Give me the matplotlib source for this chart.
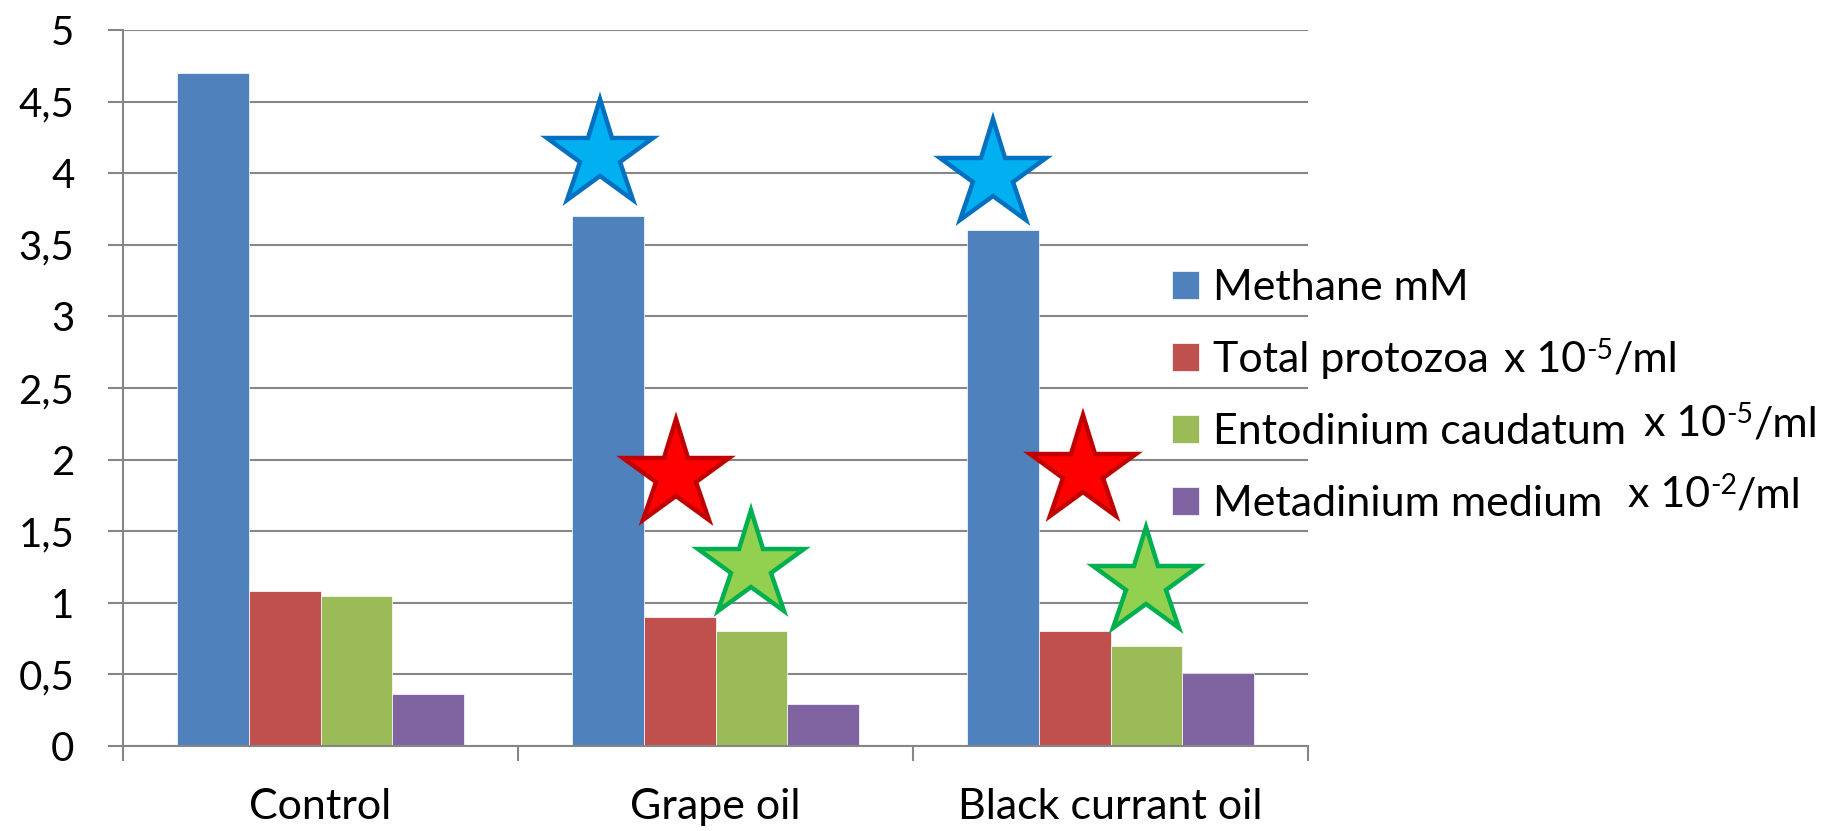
import matplotlib
matplotlib.use("Agg")
import matplotlib.pyplot as plt
import numpy as np
from matplotlib.markers import MarkerStyle
from matplotlib.transforms import IdentityTransform

plt.rcParams["font.family"] = ["Lato", "DejaVu Sans"]

# ---- data -------------------------------------------------------------
categories = ["Control", "Grape oil", "Black currant oil"]
series_names = ["Methane mM", "Total protozoa", "Entodinium caudatum", "Metadinium medium"]
methane = [4.70, 3.70, 3.60]
total_protozoa = [1.08, 0.90, 0.80]
entodinium_caudatum = [1.05, 0.80, 0.70]
metadinium_medium = [0.36, 0.29, 0.51]

y_ticks = [0, 0.5, 1, 1.5, 2, 2.5, 3, 3.5, 4, 4.5, 5]
y_tick_labels = ["0", "0,5", "1", "1,5", "2", "2,5", "3", "3,5", "4", "4,5", "5"]

# unit suffix of each legend entry: (mantissa, exponent, unit)
unit_suffixes = [None, ("x 10", "-5", "/ml"), ("x 10", "-5", "/ml"), ("x 10", "-2", "/ml")]

# significance stars: category, series, height
star_category = [1, 1, 1, 2, 2, 2]
star_series = [0, 1, 2, 0, 1, 2]
star_height = [4.13, 1.89, 1.26, 3.99, 1.92, 1.14]
star_shift = [-0.02, -0.01, 0.0, -0.024, 0.022, 0.0]

# ---- style ------------------------------------------------------------
bar_colors = ["#4F81BD", "#C0504D", "#9BBB59", "#8064A2"]
star_face = ["#00B0F0", "#FF0000", "#92D050"]
star_edge = ["#0070C0", "#C00000", "#00B050"]
grid_color = "#868686"

W, H = 1839, 831
fig = plt.figure(figsize=(W / 100, H / 100), dpi=100)
ax = fig.add_axes([123 / W, 85 / H, (1308 - 123) / W, (746 - 30) / H])

values = [methane, total_protozoa, entodinium_caudatum, metadinium_medium]
x = np.arange(len(categories))
n = len(values)
bw = 1 / (n + 1.5)
for i, (name, vals) in enumerate(zip(series_names, values)):
    ax.bar(x + (i - (n - 1) / 2) * bw, vals, bw, color=bar_colors[i],
           edgecolor="white", linewidth=0.5, zorder=2, label=name)

star_marker = MarkerStyle("*", joinstyle="miter")
for c, s, h, dx in zip(star_category, star_series, star_height, star_shift):
    ax.plot(c + (s - (n - 1) / 2) * bw + dx, h, linestyle="none", marker=star_marker,
            markersize=80, markerfacecolor=star_face[s], markeredgecolor=star_edge[s],
            markeredgewidth=3.2, zorder=4, clip_on=False)

ax.set_xlim(-0.5, len(categories) - 0.5)
ax.set_ylim(0, 5)
ax.set_yticks(y_ticks)
ax.set_yticklabels(y_tick_labels)
ax.set_xticks(np.arange(len(categories) + 1) - 0.5)
ax.set_xticklabels([])
ax.set_xticks(x, minor=True)
ax.set_xticklabels(categories, minor=True)

ax.yaxis.grid(True, color=grid_color, linewidth=1.5, zorder=0)
ax.set_axisbelow(True)
for side in ("top", "right"):
    ax.spines[side].set_visible(False)
for side in ("left", "bottom"):
    ax.spines[side].set_color(grid_color)
    ax.spines[side].set_linewidth(1.5)

ax.tick_params(axis="y", which="major", direction="out", length=11, width=1.5,
               color=grid_color, labelsize=29, pad=24)
ax.tick_params(axis="x", which="major", direction="out", length=11, width=1.5,
               color=grid_color)
ax.tick_params(axis="x", which="minor", length=0, labelsize=31, pad=30)

fs = 31
leg = ax.legend(loc="center left", bbox_to_anchor=(1172 / W, (H - 396) / H),
                bbox_transform=fig.transFigure, frameon=False, fontsize=fs,
                handlelength=0.63, handleheight=0.63, handletextpad=0.33,
                labelspacing=0.79, borderpad=0, borderaxespad=0)

# unit suffixes written after the legend labels
fig.canvas.draw()
renderer = fig.canvas.get_renderer()
gaps = [0, 15, 18, 25]
raises = [0, 0, 8, 9]
for t, suf, gap, rz in zip(leg.get_texts(), unit_suffixes, gaps, raises):
    if suf is None:
        continue
    bb = t.get_window_extent(renderer)
    base = t.get_transform().transform((0, 0))[1] + rz
    xpos = bb.x1 + gap
    pieces = [(suf[0], fs, 0), (suf[1], fs * 0.66, 13), (suf[2], fs, 0)]
    for txt, size, dy in pieces:
        tt = fig.text(xpos, base + dy, txt, fontsize=size, va="baseline", ha="left",
                      transform=IdentityTransform())
        xpos = tt.get_window_extent(renderer).x1

fig.savefig("out.png", dpi=100)
